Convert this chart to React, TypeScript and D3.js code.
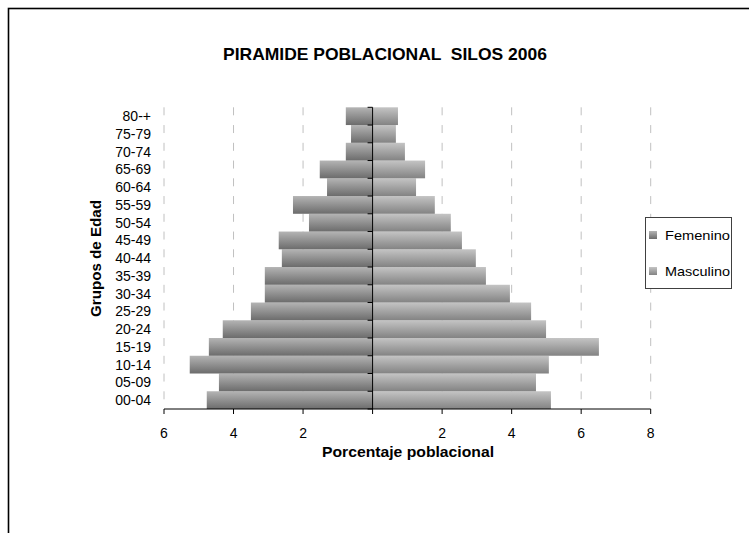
import React from "react";
import * as d3 from "d3";

const categories = ["00-04","05-09","10-14","15-19","20-24","25-29","30-34","35-39","40-44","45-49","50-54","55-59","60-64","65-69","70-74","75-79","80-+"];
const femenino = [4.77,4.42,5.26,4.71,4.31,3.50,3.10,3.10,2.61,2.70,1.83,2.29,1.31,1.52,0.77,0.62,0.77];
const masculino = [5.13,4.70,5.07,6.51,4.99,4.56,3.95,3.26,2.97,2.57,2.25,1.79,1.25,1.51,0.93,0.67,0.73];
const xTicks = [-6,-4,-2,0,2,4,6,8];
const seriesNames = ["Femenino","Masculino"];

const FONT = "'Liberation Sans', Arial, sans-serif";

export default function App() {
  const left = 164, right = 650.7, top = 107.3, bottom = 409;
  const x = d3.scaleLinear().domain([-6, 8]).range([left, right]);
  const y = d3.scaleBand<string>().domain([...categories].reverse()).range([top, bottom]).padding(0);
  const x0 = x(0);
  const bw = y.bandwidth();
  const boundaries = d3.range(categories.length + 1).map(i => top + i * bw);

  return (
    <svg width={749} height={533} style={{ position: "absolute", left: 0, top: 0, background: "#fff" }}>
      <defs>
        <linearGradient id="gF" x1="0" y1="0" x2="0" y2="1">
          <stop offset="0" stopColor="#b4b4b4" />
          <stop offset="1" stopColor="#6c6c6c" />
        </linearGradient>
        <linearGradient id="gM" x1="0" y1="0" x2="0" y2="1">
          <stop offset="0" stopColor="#c4c4c4" />
          <stop offset="1" stopColor="#838383" />
        </linearGradient>
      </defs>
      <rect x={0} y={0} width={749} height={533} fill="#fff" />
      <rect x={8.5} y={8.5} width={800} height={600} fill="none" stroke="#000" strokeWidth={1.6} />

      <text x={385} y={60} textAnchor="middle" fontFamily={FONT} fontWeight="bold" fontSize={17} textLength={324} lengthAdjust="spacingAndGlyphs" style={{ whiteSpace: "pre" }}>{"PIRAMIDE POBLACIONAL  SILOS 2006"}</text>

      {xTicks.filter(t => t !== 0).map(t => (
        <line key={"g" + t} x1={x(t)} x2={x(t)} y1={top} y2={bottom} stroke="#c0c0c0" strokeWidth={1} strokeDasharray="8 9.75" />
      ))}

      {categories.map((c, i) => (
        <rect key={"f" + c} x={x(-femenino[i])} y={y(c)} width={x0 - x(-femenino[i])} height={bw} fill="url(#gF)" />
      ))}
      {categories.map((c, i) => (
        <rect key={"m" + c} x={x0} y={y(c)} width={x(masculino[i]) - x0} height={bw} fill="url(#gM)" />
      ))}

      <line x1={left} x2={right} y1={bottom} y2={bottom} stroke="#000" strokeWidth={1} />
      {xTicks.map(t => (
        <g key={"t" + t}>
          <line x1={x(t)} x2={x(t)} y1={bottom} y2={bottom + 5} stroke="#000" />
          {t !== 0 && (
            <text x={x(t)} y={438} textAnchor="middle" fontFamily={FONT} fontSize={14}>{Math.abs(t)}</text>
          )}
        </g>
      ))}

      <line x1={x0} x2={x0} y1={top} y2={bottom} stroke="#000" strokeWidth={1} />
      {boundaries.map((b, i) => (
        <line key={"yt" + i} x1={x0 - 5} x2={x0} y1={b} y2={b} stroke="#000" />
      ))}
      {categories.map(c => (
        <text key={"l" + c} x={151} y={(y(c) as number) + bw / 2 + 5} textAnchor="end" fontFamily={FONT} fontSize={14}>{c}</text>
      ))}

      <text x={408} y={457} textAnchor="middle" fontFamily={FONT} fontWeight="bold" fontSize={14} textLength={172} lengthAdjust="spacingAndGlyphs">Porcentaje poblacional</text>
      <text transform="translate(101,258.5) rotate(-90)" textAnchor="middle" fontFamily={FONT} fontWeight="bold" fontSize={14} textLength={117} lengthAdjust="spacingAndGlyphs">Grupos de Edad</text>

      <rect x={645.5} y={217.5} width={86} height={71} fill="#fff" stroke="#404040" strokeWidth={1} />
      {seriesNames.map((s, i) => (
        <g key={s}>
          <rect x={649} y={231 + i * 36} width={8} height={8} fill={i === 0 ? "url(#gF)" : "url(#gM)"} />
          <text x={665} y={240 + i * 36} fontFamily={FONT} fontSize={13} textLength={65} lengthAdjust="spacingAndGlyphs">{s}</text>
        </g>
      ))}
    </svg>
  );
}
